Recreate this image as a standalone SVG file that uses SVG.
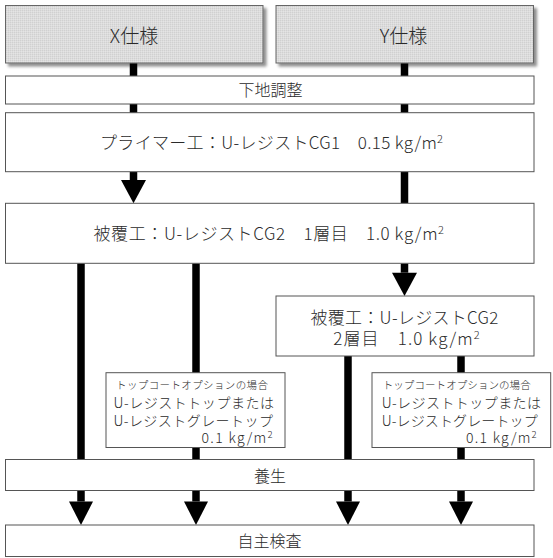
<svg xmlns="http://www.w3.org/2000/svg" width="553" height="558" viewBox="0 0 553 558">
<style>
  text { font-family: "Noto Sans CJK JP", "Noto Sans", sans-serif; fill: #2a2a2a; font-weight: 300; }
  .box { fill: #ffffff; stroke: #555555; stroke-width: 1; }
  .hdr { fill: url(#dither); stroke: #666666; stroke-width: 1; }
  .shaft { stroke: #000000; stroke-width: 7.5; fill: none; }
  .t19 { font-size: 19px; }
  .t17 { font-size: 17px; }
  .t16 { font-size: 16px; }
  .t145 { font-size: 14px; }
  .t105 { font-size: 10.5px; }
  .mid { text-anchor: middle; }
</style>
<defs>
  <pattern id="dither" width="2" height="2" patternUnits="userSpaceOnUse">
    <rect width="2" height="2" fill="#dcdcdc"/>
    <rect width="1" height="1" fill="#d0d0d0"/>
    <rect x="1" y="1" width="1" height="1" fill="#e4e4e4"/>
  </pattern>
  <filter id="shadow" x="-10%" y="-20%" width="130%" height="150%">
    <feGaussianBlur in="SourceAlpha" stdDeviation="1.5"/>
    <feOffset dx="3" dy="3" result="b"/>
    <feComponentTransfer><feFuncA type="linear" slope="0.45"/></feComponentTransfer>
    <feMerge><feMergeNode/><feMergeNode in="SourceGraphic"/></feMerge>
  </filter>
  <marker id="head25" markerUnits="userSpaceOnUse" orient="auto" refX="0" refY="0" markerWidth="30" markerHeight="30" overflow="visible">
    <path d="M0,-12.5 L23.3,0 L0,12.5 Z" fill="#000000"/>
  </marker>
  <marker id="head24" markerUnits="userSpaceOnUse" orient="auto" refX="0" refY="0" markerWidth="30" markerHeight="30" overflow="visible">
    <path d="M0,-12 L23.5,0 L0,12 Z" fill="#000000"/>
  </marker>
</defs>

<g id="connectors">
  <line class="shaft" x1="133.5" y1="63" x2="133.5" y2="76"/>
  <line class="shaft" x1="133.5" y1="104" x2="133.5" y2="113"/>
  <line class="shaft" x1="133.5" y1="171.7" x2="133.5" y2="180" marker-end="url(#head25)"/>
  <line class="shaft" x1="404.5" y1="63" x2="404.5" y2="76"/>
  <line class="shaft" x1="404.5" y1="104" x2="404.5" y2="113"/>
  <line class="shaft" x1="404.5" y1="171.7" x2="404.5" y2="203.5"/>
  <line class="shaft" x1="404.5" y1="263.3" x2="404.5" y2="272.7" marker-end="url(#head25)"/>
  <line class="shaft" x1="81" y1="263.3" x2="81" y2="459.5"/>
  <line class="shaft" x1="196" y1="263.3" x2="196" y2="373"/>
  <line class="shaft" x1="196" y1="447.5" x2="196" y2="459.5"/>
  <line class="shaft" x1="348" y1="356" x2="348" y2="459.5"/>
  <line class="shaft" x1="461" y1="356" x2="461" y2="373"/>
  <line class="shaft" x1="461" y1="447.5" x2="461" y2="459.5"/>
  <line class="shaft" x1="81" y1="490.5" x2="81" y2="501.5" marker-end="url(#head24)"/>
  <line class="shaft" x1="196" y1="490.5" x2="196" y2="501.5" marker-end="url(#head24)"/>
  <line class="shaft" x1="348" y1="490.5" x2="348" y2="501.5" marker-end="url(#head24)"/>
  <line class="shaft" x1="461" y1="490.5" x2="461" y2="501.5" marker-end="url(#head24)"/>
</g>

<g id="node-x-spec">
  <rect class="hdr" x="5.5" y="5.5" width="257.5" height="57.5" filter="url(#shadow)"/>
  <text class="t19 mid" x="134" y="42.6">X仕様</text>
</g>
<g id="node-y-spec">
  <rect class="hdr" x="276" y="5.5" width="257.5" height="57.5" filter="url(#shadow)"/>
  <text class="t19 mid" x="403.5" y="42.6">Y仕様</text>
</g>
<g id="node-shitaji">
  <rect class="box" x="5.5" y="76" width="528.5" height="28"/>
  <text class="t16 mid" x="270.5" y="95.8">下地調整</text>
</g>
<g id="node-primer">
  <rect class="box" x="5.5" y="112.7" width="528.5" height="59"/>
  <text class="t17" x="100" y="148.5" textLength="343" lengthAdjust="spacing">プライマー工：U-レジストCG1　0.15 kg/m<tspan font-size="11" dy="-6">2</tspan></text>
</g>
<g id="node-coat1">
  <rect class="box" x="5.5" y="203.3" width="528.5" height="60"/>
  <text class="t17" x="93.5" y="239.5" textLength="350.5" lengthAdjust="spacing">被覆工：U-レジストCG2　1層目　1.0 kg/m<tspan font-size="11" dy="-6">2</tspan></text>
</g>
<g id="node-coat2">
  <rect class="box" x="276" y="296" width="258" height="60"/>
  <text class="t17" x="310.4" y="323.5" textLength="188" lengthAdjust="spacing">被覆工：U-レジストCG2</text>
  <text class="t17" x="333.3" y="344.5" textLength="146.4" lengthAdjust="spacing">2層目　1.0 kg/m<tspan font-size="11" dy="-6">2</tspan></text>
</g>
<g id="node-option-x">
  <rect class="box" x="106" y="372.7" width="179" height="74.8"/>
  <text class="t105" x="116" y="389" textLength="152" lengthAdjust="spacing">トップコートオプションの場合</text>
  <text class="t145" x="113.5" y="408.4" textLength="160.5" lengthAdjust="spacing">U-レジストトップまたは</text>
  <text class="t145" x="113.5" y="426" textLength="159.4" lengthAdjust="spacing">U-レジストグレートップ</text>
  <text class="t145" x="201.5" y="443.3" textLength="71.2" lengthAdjust="spacing">0.1 kg/m<tspan font-size="9.5" dy="-5">2</tspan></text>
</g>
<g id="node-option-y">
  <rect class="box" x="372" y="372.7" width="178.7" height="74.8"/>
  <text class="t105" x="382.7" y="388.5" textLength="148" lengthAdjust="spacing">トップコートオプションの場合</text>
  <text class="t145" x="381.7" y="408.4" textLength="159.3" lengthAdjust="spacing">U-レジストトップまたは</text>
  <text class="t145" x="381.7" y="425.5" textLength="156" lengthAdjust="spacing">U-レジストグレートップ</text>
  <text class="t145" x="466" y="443.3" textLength="70.7" lengthAdjust="spacing">0.1 kg/m<tspan font-size="9.5" dy="-5">2</tspan></text>
</g>
<g id="node-yojo">
  <rect class="box" x="5.5" y="459.5" width="528.5" height="31"/>
  <text class="t16 mid" x="270" y="481.5">養生</text>
</g>
<g id="node-inspection">
  <rect class="box" x="5.5" y="525" width="528.5" height="31.5"/>
  <text class="t16 mid" x="269.5" y="546.7">自主検査</text>
</g>
</svg>
